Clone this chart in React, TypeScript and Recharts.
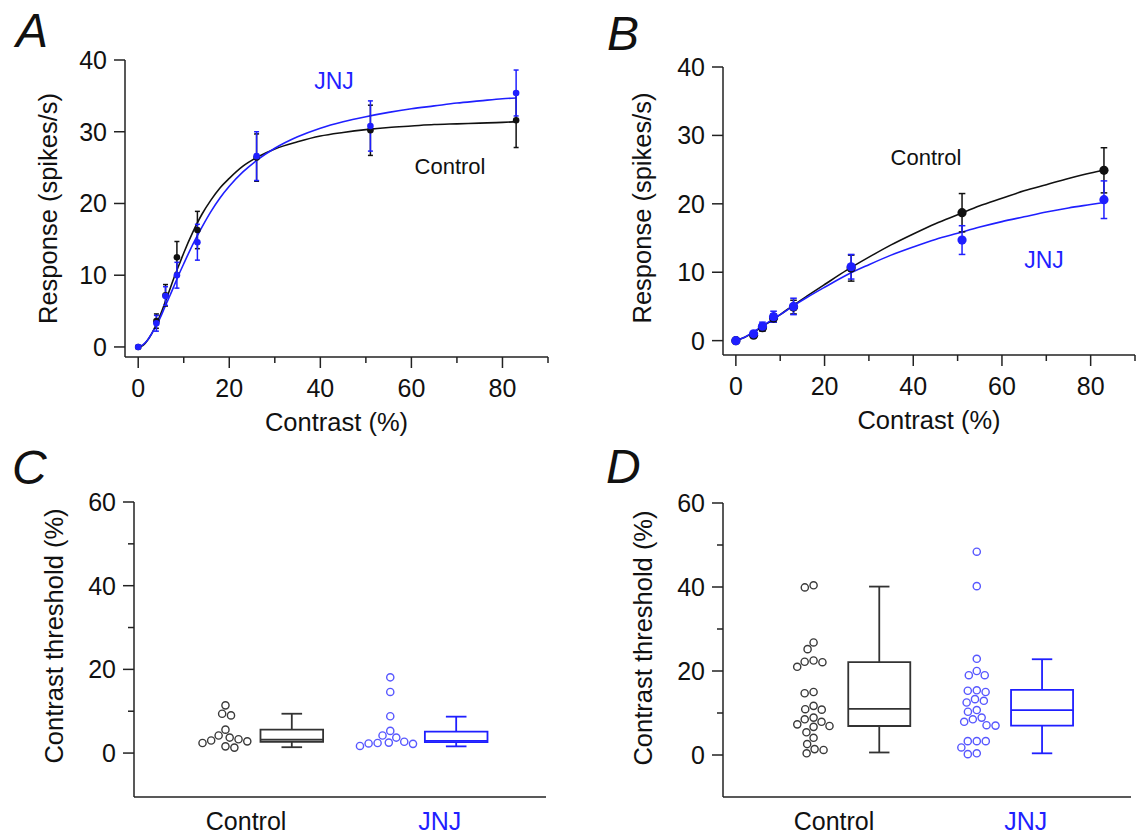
import React from 'react';
import {
  ComposedChart,
  Line,
  Scatter,
  XAxis,
  YAxis,
  ErrorBar,
  ReferenceArea,
  ReferenceLine,
} from 'recharts';

const FONT = "'Liberation Sans', Arial, Helvetica, sans-serif";
const BLACK = '#111111';
const BLUE = '#1f1fff';
const AXIS = '#222222';
const RING_BLACK = '#3a3a3a';
const RING_BLUE = '#5858ff';

// contrast levels (%) used in A and B
const contrasts = [0, 4, 6, 8.5, 13, 26, 51, 83];

// Panel A: mean responses (spikes/s) and SEM
const ctrlRespA = [0, 3.6, 7.2, 12.5, 16.3, 26.4, 30.2, 31.6];
const ctrlErrA = [0, 1.0, 1.5, 2.2, 2.6, 3.3, 3.5, 3.8];
const jnjRespA = [0, 3.3, 7.1, 10.0, 14.6, 26.6, 30.8, 35.4];
const jnjErrA = [0, 1.1, 1.3, 1.8, 2.5, 3.4, 3.5, 3.2];

// Panel A: fitted curves
const fitXA = [0, 1, 2, 3, 4, 5, 6, 7, 8, 9, 10, 12, 14, 16, 18, 20, 23, 26, 30, 35, 40, 45, 50, 55, 60, 65, 70, 75, 80, 83];
const fitCtrlA = [0, 0.2, 0.9, 1.9, 3.2, 4.7, 6.4, 8.1, 9.9, 11.5, 13.1, 16.0, 18.5, 20.5, 22.2, 23.5, 25.2, 26.4, 27.6, 28.6, 29.4, 29.9, 30.3, 30.6, 30.8, 31.0, 31.1, 31.2, 31.3, 31.4];
const fitJnjA = [0, 0.3, 0.9, 1.9, 3.0, 4.3, 5.8, 7.2, 8.7, 10.2, 11.6, 14.3, 16.7, 18.9, 20.8, 22.4, 24.4, 26.0, 27.7, 29.3, 30.5, 31.4, 32.1, 32.7, 33.2, 33.6, 34.0, 34.3, 34.6, 34.7];

// Panel B
const ctrlRespB = [0, 0.8, 1.9, 3.3, 4.9, 10.6, 18.7, 24.9];
const ctrlErrB = [0, 0.3, 0.5, 0.6, 1.0, 1.9, 2.8, 3.3];
const jnjRespB = [0, 1.0, 2.1, 3.5, 5.0, 10.8, 14.7, 20.6];
const jnjErrB = [0, 0.3, 0.6, 0.8, 1.2, 1.8, 2.1, 2.75];

const fitXB = [0, 2, 4, 6, 8, 10, 13, 16, 20, 25, 30, 35, 40, 45, 50, 55, 60, 65, 70, 75, 80, 83];
const fitCtrlB = [0, 0.5, 1.2, 2.1, 2.9, 3.8, 5.2, 6.5, 8.2, 10.3, 12.2, 14.0, 15.6, 17.1, 18.4, 19.7, 20.8, 21.9, 22.8, 23.7, 24.5, 24.9];
const fitJnjB = [0, 0.5, 1.3, 2.1, 3.0, 3.8, 5.1, 6.3, 7.8, 9.6, 11.1, 12.5, 13.7, 14.8, 15.7, 16.6, 17.4, 18.1, 18.8, 19.4, 19.9, 20.2];

// Panels C and D: contrast thresholds (%) per cell
const ctrlThrC = [11.4, 9.4, 9.0, 5.6, 4.2, 3.7, 3.3, 3.0, 2.8, 2.4, 1.6, 1.3];
const jnjThrC = [18.1, 14.6, 8.8, 5.3, 4.2, 3.7, 2.7, 2.5, 2.4, 2.3, 2.2, 1.7];
const ctrlThrD = [40.4, 39.9, 26.8, 25.2, 22.5, 22.2, 22.1, 21.0, 15.0, 14.7, 11.7, 10.9, 10.8, 8.9, 8.5, 7.9, 7.3, 6.9, 6.7, 5.4, 4.1, 2.6, 1.4, 1.2, 0.4];
const jnjThrD = [48.4, 40.2, 22.9, 20.0, 19.0, 19.0, 15.4, 15.3, 15.0, 13.3, 12.9, 12.5, 10.7, 10.3, 8.9, 8.5, 7.9, 7.1, 7.0, 3.3, 3.3, 3.3, 1.8, 0.4, 0.2];

// box stats: [min, q1, median, q3, max]
const ctrlBoxC = [1.4, 2.7, 3.2, 5.6, 9.4];
const jnjBoxC = [1.6, 2.6, 2.9, 5.1, 8.7];
const ctrlBoxD = [0.6, 6.9, 11.0, 22.1, 40.1];
const jnjBoxD = [0.4, 7.0, 10.7, 15.5, 22.8];

const groups = ['Control', 'JNJ'];

const toPoints = (ys: number[], errs: number[]) =>
  contrasts.map((x, i) => ({ x, y: ys[i], err: errs[i] }));
const toLine = (xs: number[], ys: number[]) => xs.map((x, i) => ({ x, y: ys[i] }));

// simple beeswarm: spread dots sideways so they don't overlap
function swarm(values: number[], center: number, pxX: number, pxY: number, d = 9) {
  const placed: { x: number; y: number }[] = [];
  const out: { x: number; y: number }[] = [];
  const order = values.map((_, i) => i).sort((a, b) => values[b] - values[a]);
  for (const i of order) {
    const y = values[i] * pxY;
    const spans: [number, number][] = [];
    for (const p of placed) {
      const dy = Math.abs(p.y - y);
      if (dy < d) {
        const w = Math.sqrt(d * d - dy * dy);
        spans.push([p.x - w, p.x + w]);
      }
    }
    const cands = [0, ...spans.flatMap(([a, b]) => [a, b])].sort((a, b) => Math.abs(a) - Math.abs(b));
    let x = 0;
    for (const c of cands) {
      if (spans.every(([a, b]) => c <= a + 1e-6 || c >= b - 1e-6)) {
        x = c;
        break;
      }
    }
    placed.push({ x, y });
    out.push({ x: center + x / pxX, y: values[i] });
  }
  return out;
}

const xTick = (labeled: number[]) => (props: any) => {
  const { x, y, payload } = props;
  const major = labeled.includes(payload.value);
  return (
    <g>
      <line x1={x} y1={y} x2={x} y2={y + (major ? 11 : 6)} stroke={AXIS} strokeWidth={1.5} />
      {major && (
        <text x={x} y={y + 40} textAnchor="middle" fontSize={25} fontFamily={FONT} fill="#111">
          {payload.value}
        </text>
      )}
    </g>
  );
};

const yTick = (labeled: number[]) => (props: any) => {
  const { x, y, payload } = props;
  const major = labeled.includes(payload.value);
  return (
    <g>
      <line x1={x} y1={y} x2={x - (major ? 11 : 6)} y2={y} stroke={AXIS} strokeWidth={1.5} />
      {major && (
        <text x={x - 18} y={y + 9} textAnchor="end" fontSize={25} fontFamily={FONT} fill="#111">
          {payload.value}
        </text>
      )}
    </g>
  );
};

const catTick = (props: any) => {
  const { x, y, index } = props;
  return (
    <text x={x} y={y + 33} textAnchor="middle" fontSize={25} fontFamily={FONT} fill={index === 0 ? '#111' : BLUE}>
      {groups[index]}
    </text>
  );
};

const filledDot = (color: string, r: number) => (props: any) =>
  <circle cx={props.cx} cy={props.cy} r={r} fill={color} />;

const ringDot = (color: string) => (props: any) =>
  <circle cx={props.cx} cy={props.cy} r={3.6} fill="none" stroke={color} strokeWidth={1.4} />;

type Margin = { top: number; right: number; bottom: number; left: number };

function CurvePanel(p: {
  left: number; top: number; width: number; height: number; margin: Margin;
  yDomain: [number, number];
  ctrlPts: any[]; jnjPts: any[]; ctrlFit: any[]; jnjFit: any[]; r: number; cap: number;
}) {
  return (
    <div style={{ position: 'absolute', left: p.left, top: p.top }}>
      <ComposedChart width={p.width} height={p.height} margin={p.margin}>
        <XAxis
          type="number" dataKey="x" domain={[-2.9, 90]} ticks={[0, 10, 20, 30, 40, 50, 60, 70, 80, 90]}
          interval={0} tick={xTick([0, 20, 40, 60, 80])} tickLine={false} tickSize={0} tickMargin={0}
          height={60} axisLine={{ stroke: AXIS, strokeWidth: 1.5 }} allowDataOverflow
        />
        <YAxis
          type="number" domain={p.yDomain} ticks={[0, 10, 20, 30, 40]} interval={0}
          tick={yTick([0, 10, 20, 30, 40])} tickLine={false} tickSize={0} tickMargin={0}
          width={60} axisLine={{ stroke: AXIS, strokeWidth: 1.5 }} allowDataOverflow
        />
        <Line data={p.ctrlFit} dataKey="y" type="monotone" stroke={BLACK} strokeWidth={1.6} dot={false} isAnimationActive={false} />
        <Line data={p.jnjFit} dataKey="y" type="monotone" stroke={BLUE} strokeWidth={1.6} dot={false} isAnimationActive={false} />
        <Scatter data={p.ctrlPts} dataKey="y" shape={filledDot(BLACK, p.r)} isAnimationActive={false}>
          <ErrorBar dataKey="err" direction="y" width={p.cap} stroke={BLACK} strokeWidth={1.5} isAnimationActive={false} />
        </Scatter>
        <Scatter data={p.jnjPts} dataKey="y" shape={filledDot(BLUE, p.r)} isAnimationActive={false}>
          <ErrorBar dataKey="err" direction="y" width={p.cap} stroke={BLUE} strokeWidth={1.5} isAnimationActive={false} />
        </Scatter>
      </ComposedChart>
    </div>
  );
}

const DOTS_X = [2.22, 6.22];
const BOX_X = [3.83, 7.82];
const LABEL_X = [2.72, 7.42];
const BOX_HALF = 0.76;
const CAP_HALF = 0.25;

function boxShapes(stats: number[], cx: number, color: string, key: string) {
  const [mn, q1, med, q3, mx] = stats;
  const common = { stroke: color, strokeWidth: 1.8, ifOverflow: 'visible' as const };
  return [
    <ReferenceArea key={key + 'b'} x1={cx - BOX_HALF} x2={cx + BOX_HALF} y1={q1} y2={q3} fill="none" fillOpacity={0} {...common} />,
    <ReferenceLine key={key + 'm'} segment={[{ x: cx - BOX_HALF, y: med }, { x: cx + BOX_HALF, y: med }]} {...common} />,
    <ReferenceLine key={key + 'u'} segment={[{ x: cx, y: q3 }, { x: cx, y: mx }]} {...common} />,
    <ReferenceLine key={key + 'l'} segment={[{ x: cx, y: q1 }, { x: cx, y: mn }]} {...common} />,
    <ReferenceLine key={key + 'ut'} segment={[{ x: cx - CAP_HALF, y: mx }, { x: cx + CAP_HALF, y: mx }]} {...common} />,
    <ReferenceLine key={key + 'lt'} segment={[{ x: cx - CAP_HALF, y: mn }, { x: cx + CAP_HALF, y: mn }]} {...common} />,
  ];
}

function BoxPanel(p: {
  left: number; top: number; width: number; height: number; margin: Margin;
  yDomain: [number, number];
  ctrl: number[]; jnj: number[]; ctrlBox: number[]; jnjBox: number[];
}) {
  const xAxisH = 30;
  const yAxisW = 60;
  const plotW = p.width - p.margin.left - p.margin.right - yAxisW;
  const plotH = p.height - p.margin.top - p.margin.bottom - xAxisH;
  const pxX = plotW / 10;
  const pxY = plotH / (p.yDomain[1] - p.yDomain[0]);
  const ctrlDots = swarm(p.ctrl, DOTS_X[0], pxX, pxY);
  const jnjDots = swarm(p.jnj, DOTS_X[1], pxX, pxY);
  return (
    <div style={{ position: 'absolute', left: p.left, top: p.top }}>
      <ComposedChart width={p.width} height={p.height} margin={p.margin}>
        <XAxis
          type="number" dataKey="x" domain={[0, 10]} ticks={LABEL_X} interval={0} tick={catTick}
          tickLine={false} tickSize={0} tickMargin={0} height={xAxisH}
          axisLine={{ stroke: AXIS, strokeWidth: 1.5 }} allowDataOverflow
        />
        <YAxis
          type="number" domain={p.yDomain} ticks={[0, 10, 20, 30, 40, 50, 60]} interval={0}
          tick={yTick([0, 20, 40, 60])} tickLine={false} tickSize={0} tickMargin={0}
          width={yAxisW} axisLine={{ stroke: AXIS, strokeWidth: 1.5 }} allowDataOverflow
        />
        {boxShapes(p.ctrlBox, BOX_X[0], '#333333', 'c')}
        {boxShapes(p.jnjBox, BOX_X[1], BLUE, 'j')}
        <Scatter data={ctrlDots} dataKey="y" shape={ringDot(RING_BLACK)} isAnimationActive={false} />
        <Scatter data={jnjDots} dataKey="y" shape={ringDot(RING_BLUE)} isAnimationActive={false} />
      </ComposedChart>
    </div>
  );
}

export default function App() {
  const txt = { fontFamily: FONT, fill: '#111' };
  return (
    <div style={{ position: 'relative', width: 1141, height: 835, background: '#fff', overflow: 'hidden' }}>
      <style>{'body{margin:0;background:#fff}'}</style>
      <CurvePanel
        left={0} top={0} width={570} height={450}
        margin={{ top: 60, right: 22, bottom: 33, left: 65 }}
        yDomain={[-1.4, 40]}
        ctrlPts={toPoints(ctrlRespA, ctrlErrA)} jnjPts={toPoints(jnjRespA, jnjErrA)}
        ctrlFit={toLine(fitXA, fitCtrlA)} jnjFit={toLine(fitXA, fitJnjA)}
        r={3.3} cap={2.5}
      />
      <CurvePanel
        left={580} top={0} width={561} height={450}
        margin={{ top: 67, right: 6, bottom: 35, left: 83 }}
        yDomain={[-2.1, 40]}
        ctrlPts={toPoints(ctrlRespB, ctrlErrB)} jnjPts={toPoints(jnjRespB, jnjErrB)}
        ctrlFit={toLine(fitXB, fitCtrlB)} jnjFit={toLine(fitXB, fitJnjB)}
        r={4.6} cap={3.3}
      />
      <BoxPanel
        left={0} top={450} width={570} height={385}
        margin={{ top: 52, right: 24, bottom: 8, left: 74 }}
        yDomain={[-10.5, 60]}
        ctrl={ctrlThrC} jnj={jnjThrC} ctrlBox={ctrlBoxC} jnjBox={jnjBoxC}
      />
      <BoxPanel
        left={580} top={450} width={561} height={385}
        margin={{ top: 53, right: 10, bottom: 8, left: 83 }}
        yDomain={[-10, 60]}
        ctrl={ctrlThrD} jnj={jnjThrD} ctrlBox={ctrlBoxD} jnjBox={jnjBoxD}
      />
      <svg width={1141} height={835} style={{ position: 'absolute', left: 0, top: 0, pointerEvents: 'none' }}>
        <g fontStyle="italic" fontSize={48} {...txt}>
          <text x={16} y={47}>A</text>
          <text x={607} y={50}>B</text>
          <text x={12} y={484}>C</text>
          <text x={606} y={483}>D</text>
        </g>
        <g fontSize={25.5} {...txt} textAnchor="middle">
          <text x={57} y={208.5} transform="rotate(-90 57 208.5)">Response (spikes/s)</text>
          <text x={651} y={208} transform="rotate(-90 651 208)">Response (spikes/s)</text>
          <text x={336.5} y={431}>Contrast (%)</text>
          <text x={929} y={429}>Contrast (%)</text>
          <text x={63} y={636} transform="rotate(-90 63 636)">Contrast threshold (%)</text>
          <text x={651.5} y={638} transform="rotate(-90 651.5 638)">Contrast threshold (%)</text>
        </g>
        <g fontFamily={FONT} textAnchor="middle">
          <text x={334} y={89} fontSize={23} fill={BLUE}>JNJ</text>
          <text x={450} y={174} fontSize={22} fill="#111">Control</text>
          <text x={926} y={165} fontSize={22} fill="#111">Control</text>
          <text x={1044} y={268} fontSize={23} fill={BLUE}>JNJ</text>
        </g>
      </svg>
    </div>
  );
}
